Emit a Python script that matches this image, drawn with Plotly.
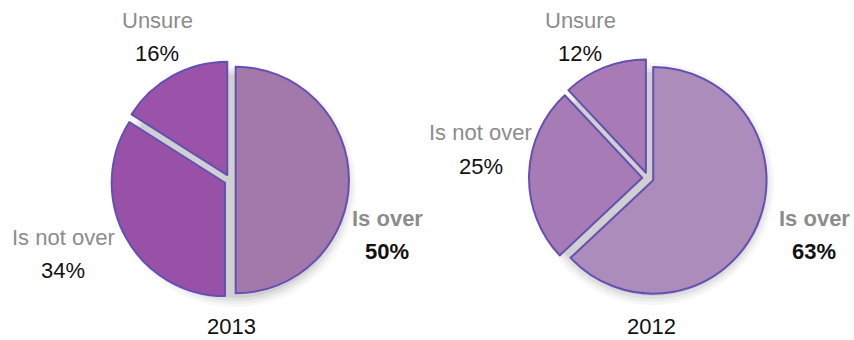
import plotly.graph_objects as go

# Survey answers, two years side by side
years = ["2013", "2012"]
labels = ["Is over", "Is not over", "Unsure"]
values_2013 = [50, 34, 16]
values_2012 = [63, 25, 12]

colors_2013 = ["#a379ab", "#9851a6", "#9a53a8"]
colors_2012 = ["#ac8cba", "#a77bb5", "#a87bb6"]
edge = "#6450b4"
pulls = [0.05, 0.05, 0.05]

W, H = 854, 340
FONT = "Liberation Sans, Arial, sans-serif"


def box(cx, cy, r):
    """Domain for a pie centred on pixel (cx, cy) with outer half-size r."""
    return dict(x=[(cx - r) / W, (cx + r) / W],
                y=[(H - cy - r) / H, (H - cy + r) / H])


def put_text(x, y, text, color, size=22):
    fig.add_annotation(x=x / W, y=1 - y / H, xref="paper", yref="paper",
                       xanchor="center", yanchor="middle",
                       text=text, showarrow=False,
                       font=dict(family=FONT, size=size, color=color))


fig = go.Figure()

centers = [(230, 180), (648, 178)]
series = [values_2013, values_2012]
palettes = [colors_2013, colors_2012]

# soft grey drop shadow under each pie
for (cx, cy) in centers:
    for grow, alpha in [(9, 0.04), (6, 0.05), (3, 0.07), (0, 0.09)]:
        fig.add_trace(go.Pie(
            values=[1], labels=["shadow"],
            domain=box(cx + 5, cy + 6, 112 + grow),
            marker=dict(colors=[f"rgba(60,60,60,{alpha})"], line=dict(width=0)),
            textinfo="none", hoverinfo="skip", showlegend=False, sort=False,
        ))

for (cx, cy), vals, cols in zip(centers, series, palettes):
    fig.add_trace(go.Pie(
        values=vals, labels=labels,
        domain=box(cx, cy, 119),
        marker=dict(colors=cols, line=dict(color=edge, width=2)),
        pull=pulls, direction="clockwise", sort=False, rotation=0,
        textinfo="none", hoverinfo="label+percent", showlegend=False,
    ))

# slice captions: (centre x, centre y of name line, year index, slice index, bold)
captions = [
    (157, 20, 0, 2, False),
    (63, 237, 0, 1, False),
    (387, 218, 0, 0, True),
    (580, 20, 1, 2, False),
    (481, 133, 1, 1, False),
    (814, 218, 1, 0, True),
]
for x, y, yi, si, bold in captions:
    v = series[yi][si]
    name = f"<b>{labels[si]}</b>" if bold else labels[si]
    pct = f"<b>{v}%</b>" if bold else f"{v}%"
    put_text(x, y, name, "#8c8c8c")
    put_text(x, y + 33, pct, "#111111")

for yr, xx in zip(years, [231, 651]):
    put_text(xx, 326, yr, "#111111")

fig.update_layout(
    width=W, height=H,
    margin=dict(l=0, r=0, t=0, b=0),
    paper_bgcolor="white", plot_bgcolor="white",
)

fig.write_html("out.html")
